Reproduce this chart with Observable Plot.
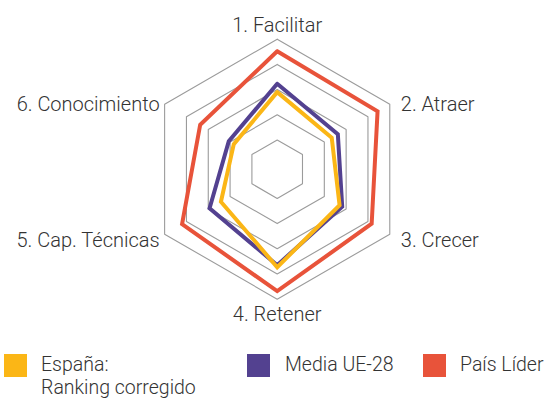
<!DOCTYPE html>
<html>
<head>
<meta charset="utf-8">
<script src="https://cdn.jsdelivr.net/npm/d3@7"></script>
<script src="https://cdn.jsdelivr.net/npm/@observablehq/plot@0.6"></script>
<style>
  body { margin: 0; background: #fff; font-family: Roboto, sans-serif; overflow: hidden; }
  #wrap { position: relative; width: 546px; height: 400px; overflow: hidden; }
  .leg { position: absolute; font-size: 19.5px; font-weight: 300; color: #333; line-height: 22.9px; white-space: nowrap; }
  .sw { position: absolute; width: 23px; height: 23px; }
</style>
</head>
<body>
<div id="wrap"><div id="chart"></div></div>
<script>
const axes = ["1. Facilitar", "2. Atraer", "3. Crecer", "4. Retener", "5. Cap. Técnicas", "6. Conocimiento"];
const espana = [2.9, 2.34, 2.7, 3.73, 2.42, 1.83];
const mediaUE = [3.23, 2.62, 2.82, 3.65, 2.94, 2.06];
const paisLider = [4.52, 4.44, 4.17, 4.68, 4.2, 3.37];
const rings = [1, 2, 3, 4, 5];
const seriesNames = ["País Líder", "Media UE-28", "España: Ranking corregido"];
const seriesColors = ["#E8533A", "#534190", "#FBB616"];

const rScale = d3.scaleLinear().domain([0, 5]).range([4 / 130, 1]);
const ang = i => (i * Math.PI * 2) / axes.length;
const pt = (i, v) => ({x: rScale(v) * Math.sin(ang(i)), y: rScale(v) * Math.cos(ang(i))});

const ringData = rings.flatMap(l => d3.range(axes.length + 1).map(i => ({ring: l, ...pt(i % axes.length, l)})));
const seriesVals = [paisLider, mediaUE, espana];
const lineData = seriesVals.flatMap((vals, s) =>
  d3.range(axes.length + 1).map(i => ({series: seriesNames[s], ...pt(i % axes.length, vals[i % axes.length])})));

const labelData = axes.map((a, i) => {
  const s = Math.sin(ang(i)), c = Math.cos(ang(i));
  const side = Math.abs(s) < 0.01;
  return {label: a, ...pt(i, 5),
    anchor: side ? "middle" : (s > 0 ? "start" : "end"),
    dx: side ? 0 : (s > 0 ? 11 : -5),
    dy: side ? (c > 0 ? -14 : 15) : (c > 0 ? 0 : 6)};
});

const chart = Plot.plot({
  width: 546,
  height: 340,
  x: {domain: [-1, 1], range: [146.7, 406.7], axis: null},
  y: {domain: [-1, 1], range: [298.7, 38.7], axis: null},
  color: {domain: seriesNames, range: seriesColors},
  style: {fontFamily: "Roboto, sans-serif", background: "#fff"},
  marks: [
    Plot.line(ringData, {x: "x", y: "y", z: "ring", stroke: "#9b9b9b", strokeWidth: 1.1}),
    Plot.line(lineData, {x: "x", y: "y", z: "series", stroke: "series", strokeWidth: 4, strokeLinejoin: "miter", strokeMiterlimit: 10}),
    ...labelData.map(d =>
      Plot.text([d], {
        x: "x", y: "y", text: "label", textAnchor: d.anchor,
        dx: d.dx, dy: d.dy, fontSize: 20, fill: "#333", fontWeight: 300
      }))
  ]
});
document.getElementById("chart").appendChild(chart);

// Legend
const wrap = document.getElementById("wrap");
const legendItems = [
  {name: "España:<br>Ranking corregido", color: seriesColors[2], sx: 3.5, tx: 41},
  {name: "Media UE-28", color: seriesColors[1], sx: 247.3, tx: 285},
  {name: "País Líder", color: seriesColors[0], sx: 422.7, tx: 460}
];
legendItems.forEach(it => {
  const sw = document.createElement("div");
  sw.className = "sw";
  sw.style.left = it.sx + "px"; sw.style.top = "354px"; sw.style.background = it.color;
  wrap.appendChild(sw);
  const t = document.createElement("div");
  t.className = "leg";
  t.style.left = it.tx + "px"; t.style.top = "354px";
  t.innerHTML = it.name;
  wrap.appendChild(t);
});
</script>
</body>
</html>
